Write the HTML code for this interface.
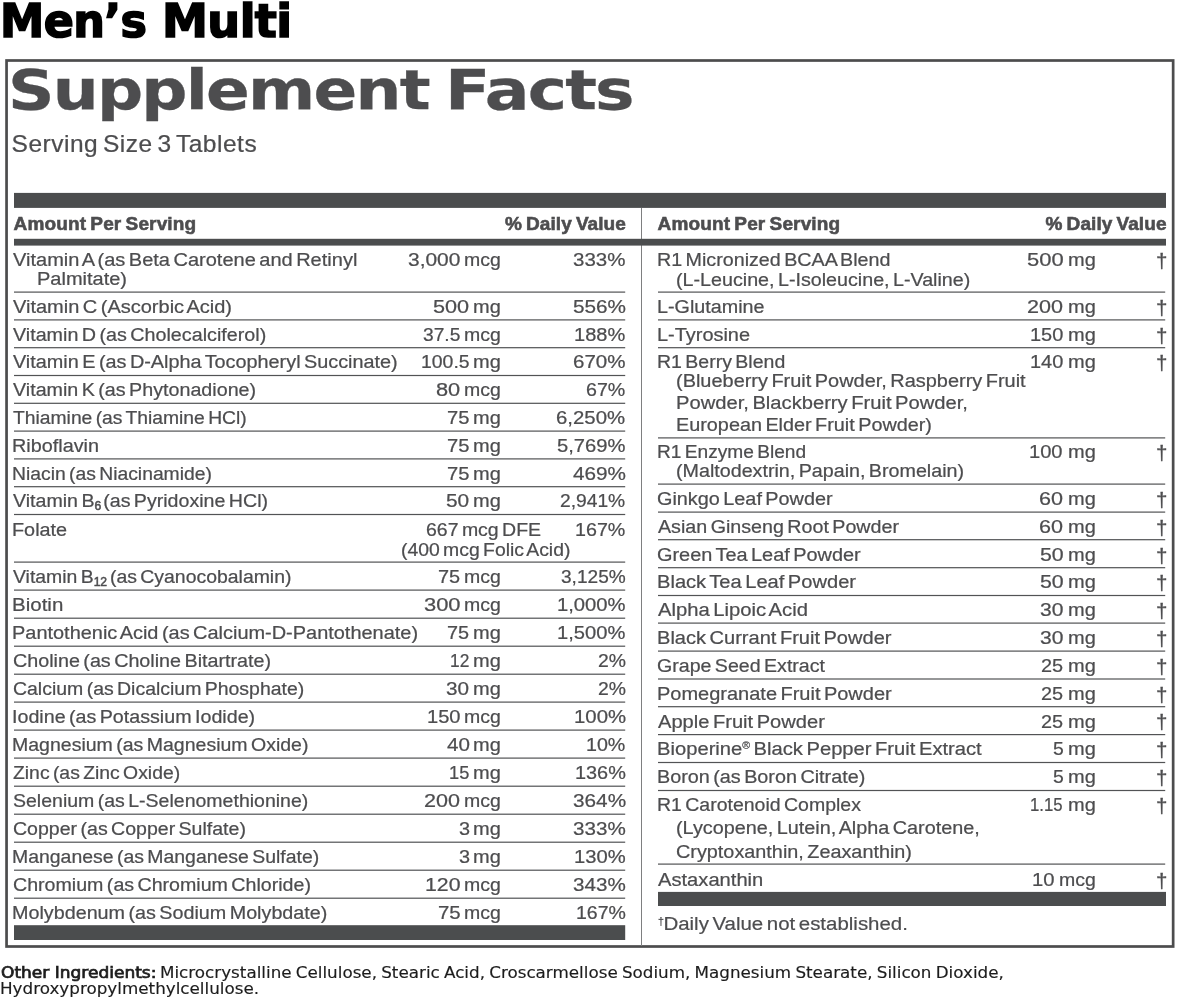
<!DOCTYPE html>
<html lang="en">
<head>
<meta charset="utf-8">
<title>Men’s Multi – Supplement Facts</title>
<style>
html,body{margin:0;padding:0;background:#fff}
body{width:1180px;height:1000px;position:relative;overflow:hidden;font-family:"Liberation Sans", sans-serif;color:#4d4d4f}
#rules{position:absolute;left:0;top:0;width:1180px;height:1000px}
.t{position:absolute;display:block;white-space:nowrap;line-height:1;margin:0;padding:0}
h1,h2,p,section,header,footer,.row{margin:0;padding:0;border:0;font:inherit;display:block}
</style>
</head>
<body>
<svg id="rules" width="1180" height="1000" viewBox="0 0 1180 1000" aria-hidden="true">
<rect x="6.55" y="60.5" width="1166.6" height="886" fill="none" stroke="#4c4c4d" stroke-width="2.7"/>
<rect x="641" y="207.9" width="1" height="738" fill="#7e7f80"/>
<rect x="14.0" y="192.9" width="1152.0" height="15" fill="#4b4d4e"/>
<rect x="14.0" y="238.8" width="1152.0" height="6.8" fill="#4b4d4e"/>
<rect x="14.0" y="925.2" width="611.2" height="14.8" fill="#4b4d4e"/>
<rect x="658.0" y="891.9" width="508.0" height="14.1" fill="#4b4d4e"/>
<rect x="14.0" y="291.50" width="611.2" height="1.2" fill="#525355"/>
<rect x="14.0" y="319.30" width="611.2" height="1.2" fill="#525355"/>
<rect x="14.0" y="347.10" width="611.2" height="1.2" fill="#525355"/>
<rect x="14.0" y="374.90" width="611.2" height="1.2" fill="#525355"/>
<rect x="14.0" y="402.70" width="611.2" height="1.2" fill="#525355"/>
<rect x="14.0" y="430.50" width="611.2" height="1.2" fill="#525355"/>
<rect x="14.0" y="458.30" width="611.2" height="1.2" fill="#525355"/>
<rect x="14.0" y="486.10" width="611.2" height="1.2" fill="#525355"/>
<rect x="14.0" y="513.90" width="611.2" height="1.2" fill="#525355"/>
<rect x="14.0" y="561.50" width="611.2" height="1.2" fill="#525355"/>
<rect x="14.0" y="589.50" width="611.2" height="1.2" fill="#525355"/>
<rect x="14.0" y="617.60" width="611.2" height="1.2" fill="#525355"/>
<rect x="14.0" y="645.60" width="611.2" height="1.2" fill="#525355"/>
<rect x="14.0" y="673.60" width="611.2" height="1.2" fill="#525355"/>
<rect x="14.0" y="701.50" width="611.2" height="1.2" fill="#525355"/>
<rect x="14.0" y="729.50" width="611.2" height="1.2" fill="#525355"/>
<rect x="14.0" y="757.50" width="611.2" height="1.2" fill="#525355"/>
<rect x="14.0" y="785.60" width="611.2" height="1.2" fill="#525355"/>
<rect x="14.0" y="813.60" width="611.2" height="1.2" fill="#525355"/>
<rect x="14.0" y="841.60" width="611.2" height="1.2" fill="#525355"/>
<rect x="14.0" y="869.60" width="611.2" height="1.2" fill="#525355"/>
<rect x="14.0" y="897.60" width="611.2" height="1.2" fill="#525355"/>
<rect x="658.0" y="291.50" width="507.2" height="1.2" fill="#525355"/>
<rect x="658.0" y="319.30" width="507.2" height="1.2" fill="#525355"/>
<rect x="658.0" y="347.10" width="507.2" height="1.2" fill="#525355"/>
<rect x="658.0" y="437.30" width="507.2" height="1.2" fill="#525355"/>
<rect x="658.0" y="483.50" width="507.2" height="1.2" fill="#525355"/>
<rect x="658.0" y="511.50" width="507.2" height="1.2" fill="#525355"/>
<rect x="658.0" y="539.10" width="507.2" height="1.2" fill="#525355"/>
<rect x="658.0" y="567.10" width="507.2" height="1.2" fill="#525355"/>
<rect x="658.0" y="594.90" width="507.2" height="1.2" fill="#525355"/>
<rect x="658.0" y="622.50" width="507.2" height="1.2" fill="#525355"/>
<rect x="658.0" y="650.50" width="507.2" height="1.2" fill="#525355"/>
<rect x="658.0" y="678.40" width="507.2" height="1.2" fill="#525355"/>
<rect x="658.0" y="706.10" width="507.2" height="1.2" fill="#525355"/>
<rect x="658.0" y="734.00" width="507.2" height="1.2" fill="#525355"/>
<rect x="658.0" y="761.90" width="507.2" height="1.2" fill="#525355"/>
<rect x="658.0" y="789.90" width="507.2" height="1.2" fill="#525355"/>
<rect x="658.0" y="863.50" width="507.2" height="1.2" fill="#525355"/>
</svg>
<main>
<h1 class="product">
<span class="t" style="left:0.08px;top:-1.90px;font-size:46px;font-weight:700;color:#000;letter-spacing:-0.600px;-webkit-text-stroke:1.6px #000;font-family:'DejaVu Sans','Liberation Sans',sans-serif;transform:scaleX(0.9664);transform-origin:0 0;">Men’s</span>
<span class="t" style="left:162.06px;top:-1.90px;font-size:46px;font-weight:700;color:#000;letter-spacing:-0.600px;-webkit-text-stroke:1.6px #000;font-family:'DejaVu Sans','Liberation Sans',sans-serif;transform:scaleX(1.0039);transform-origin:0 0;">Multi</span>
</h1>
<h2 class="title">
<span class="t" style="left:7.66px;top:63.05px;font-size:55px;font-weight:700;letter-spacing:-1.500px;-webkit-text-stroke:0.3px #4d4d4f;font-family:'DejaVu Sans','Liberation Sans',sans-serif;transform:scaleX(1.1731);transform-origin:0 0;">Supplement</span>
<span class="t" style="left:445.04px;top:63.05px;font-size:55px;font-weight:700;letter-spacing:-1.500px;-webkit-text-stroke:0.3px #4d4d4f;font-family:'DejaVu Sans','Liberation Sans',sans-serif;transform:scaleX(1.2071);transform-origin:0 0;">Facts</span>
</h2>
<p class="serving">
<span class="t" style="left:11.58px;top:131.68px;font-size:24.5px;letter-spacing:0.505px;word-spacing:-2.5px;-webkit-text-stroke:0.24px #4d4d4f;">Serving Size 3 Tablets</span>
</p>
<div class="row head">
<span class="t" style="left:13.58px;top:214.30px;font-size:19px;font-weight:700;letter-spacing:0.135px;word-spacing:-1.2px;-webkit-text-stroke:0.6px #4d4d4f;">Amount Per Serving</span>
<span class="t" style="left:504.92px;top:214.30px;font-size:19px;font-weight:700;letter-spacing:0.067px;word-spacing:-1.2px;-webkit-text-stroke:0.6px #4d4d4f;">% Daily Value</span>
</div>
<div class="row head">
<span class="t" style="left:657.58px;top:214.30px;font-size:19px;font-weight:700;letter-spacing:0.135px;word-spacing:-1.2px;-webkit-text-stroke:0.6px #4d4d4f;">Amount Per Serving</span>
<span class="t" style="left:1045.47px;top:214.30px;font-size:19px;font-weight:700;letter-spacing:0.075px;word-spacing:-1.2px;-webkit-text-stroke:0.6px #4d4d4f;">% Daily Value</span>
</div>
<div class="row">
<span class="t" style="left:12.84px;top:249.88px;font-size:19.2px;word-spacing:-2.0px;-webkit-text-stroke:0.24px #4d4d4f;transform:scaleX(1.0434);transform-origin:0 0;">Vitamin A (as Beta Carotene and Retinyl</span>
<span class="t" style="left:408.04px;top:249.88px;font-size:19.2px;word-spacing:-2.0px;-webkit-text-stroke:0.24px #4d4d4f;transform:scaleX(1.0901);transform-origin:0 0;">3,000</span>
<span class="t" style="left:464.18px;top:249.88px;font-size:19.2px;word-spacing:-2.0px;-webkit-text-stroke:0.24px #4d4d4f;transform:scaleX(1.0149);transform-origin:0 0;">mcg</span>
<span class="t" style="left:573.22px;top:249.88px;font-size:19.2px;word-spacing:-2.0px;-webkit-text-stroke:0.24px #4d4d4f;transform:scaleX(1.0687);transform-origin:0 0;">333%</span>
<span class="t" style="left:36.85px;top:268.88px;font-size:19.2px;word-spacing:-2.0px;-webkit-text-stroke:0.24px #4d4d4f;transform:scaleX(1.0424);transform-origin:0 0;">Palmitate)</span>
</div>
<div class="row">
<span class="t" style="left:12.84px;top:296.88px;font-size:19.2px;word-spacing:-2.0px;-webkit-text-stroke:0.24px #4d4d4f;transform:scaleX(1.0425);transform-origin:0 0;">Vitamin C (Ascorbic Acid)</span>
<span class="t" style="left:433.25px;top:296.88px;font-size:19.2px;word-spacing:-2.0px;-webkit-text-stroke:0.24px #4d4d4f;transform:scaleX(1.1278);transform-origin:0 0;">500</span>
<span class="t" style="left:473.19px;top:296.88px;font-size:19.2px;word-spacing:-2.0px;-webkit-text-stroke:0.24px #4d4d4f;transform:scaleX(1.0406);transform-origin:0 0;">mg</span>
<span class="t" style="left:572.63px;top:296.88px;font-size:19.2px;word-spacing:-2.0px;-webkit-text-stroke:0.24px #4d4d4f;transform:scaleX(1.0799);transform-origin:0 0;">556%</span>
</div>
<div class="row">
<span class="t" style="left:12.84px;top:324.73px;font-size:19.2px;word-spacing:-2.0px;-webkit-text-stroke:0.24px #4d4d4f;transform:scaleX(1.0277);transform-origin:0 0;">Vitamin D (as Cholecalciferol)</span>
<span class="t" style="left:423.02px;top:324.73px;font-size:19.2px;word-spacing:-2.0px;-webkit-text-stroke:0.24px #4d4d4f;transform:scaleX(1.0004);transform-origin:0 0;">37.5</span>
<span class="t" style="left:464.18px;top:324.73px;font-size:19.2px;word-spacing:-2.0px;-webkit-text-stroke:0.24px #4d4d4f;transform:scaleX(1.0149);transform-origin:0 0;">mcg</span>
<span class="t" style="left:574.32px;top:324.73px;font-size:19.2px;word-spacing:-2.0px;-webkit-text-stroke:0.24px #4d4d4f;transform:scaleX(1.0433);transform-origin:0 0;">188%</span>
</div>
<div class="row">
<span class="t" style="left:12.84px;top:352.48px;font-size:19.2px;word-spacing:-2.0px;-webkit-text-stroke:0.24px #4d4d4f;transform:scaleX(1.0337);transform-origin:0 0;">Vitamin E (as D-Alpha Tocopheryl Succinate)</span>
<span class="t" style="left:420.91px;top:352.48px;font-size:19.2px;word-spacing:-2.0px;-webkit-text-stroke:0.24px #4d4d4f;transform:scaleX(1.0116);transform-origin:0 0;">100.5</span>
<span class="t" style="left:473.19px;top:352.48px;font-size:19.2px;word-spacing:-2.0px;-webkit-text-stroke:0.24px #4d4d4f;transform:scaleX(1.0406);transform-origin:0 0;">mg</span>
<span class="t" style="left:573.20px;top:352.48px;font-size:19.2px;word-spacing:-2.0px;-webkit-text-stroke:0.24px #4d4d4f;transform:scaleX(1.0703);transform-origin:0 0;">670%</span>
</div>
<div class="row">
<span class="t" style="left:12.84px;top:380.28px;font-size:19.2px;word-spacing:-2.0px;-webkit-text-stroke:0.24px #4d4d4f;transform:scaleX(1.0266);transform-origin:0 0;">Vitamin K (as Phytonadione)</span>
<span class="t" style="left:436.08px;top:380.28px;font-size:19.2px;word-spacing:-2.0px;-webkit-text-stroke:0.24px #4d4d4f;transform:scaleX(1.1350);transform-origin:0 0;">80</span>
<span class="t" style="left:464.18px;top:380.28px;font-size:19.2px;word-spacing:-2.0px;-webkit-text-stroke:0.24px #4d4d4f;transform:scaleX(1.0149);transform-origin:0 0;">mcg</span>
<span class="t" style="left:586.38px;top:380.28px;font-size:19.2px;word-spacing:-2.0px;-webkit-text-stroke:0.24px #4d4d4f;transform:scaleX(1.0233);transform-origin:0 0;">67%</span>
</div>
<div class="row">
<span class="t" style="left:13.44px;top:408.08px;font-size:19.2px;word-spacing:-2.0px;-webkit-text-stroke:0.24px #4d4d4f;transform:scaleX(1.0054);transform-origin:0 0;">Thiamine (as Thiamine HCl)</span>
<span class="t" style="left:447.06px;top:408.08px;font-size:19.2px;word-spacing:-2.0px;-webkit-text-stroke:0.24px #4d4d4f;transform:scaleX(1.0516);transform-origin:0 0;">75</span>
<span class="t" style="left:473.19px;top:408.08px;font-size:19.2px;word-spacing:-2.0px;-webkit-text-stroke:0.24px #4d4d4f;transform:scaleX(1.0406);transform-origin:0 0;">mg</span>
<span class="t" style="left:556.48px;top:408.08px;font-size:19.2px;word-spacing:-2.0px;-webkit-text-stroke:0.24px #4d4d4f;transform:scaleX(1.0618);transform-origin:0 0;">6,250%</span>
</div>
<div class="row">
<span class="t" style="left:12.31px;top:435.88px;font-size:19.2px;word-spacing:-2.0px;-webkit-text-stroke:0.24px #4d4d4f;transform:scaleX(1.0331);transform-origin:0 0;">Riboflavin</span>
<span class="t" style="left:447.06px;top:435.88px;font-size:19.2px;word-spacing:-2.0px;-webkit-text-stroke:0.24px #4d4d4f;transform:scaleX(1.0516);transform-origin:0 0;">75</span>
<span class="t" style="left:473.19px;top:435.88px;font-size:19.2px;word-spacing:-2.0px;-webkit-text-stroke:0.24px #4d4d4f;transform:scaleX(1.0406);transform-origin:0 0;">mg</span>
<span class="t" style="left:557.22px;top:435.88px;font-size:19.2px;word-spacing:-2.0px;-webkit-text-stroke:0.24px #4d4d4f;transform:scaleX(1.0525);transform-origin:0 0;">5,769%</span>
</div>
<div class="row">
<span class="t" style="left:12.34px;top:463.68px;font-size:19.2px;word-spacing:-2.0px;-webkit-text-stroke:0.24px #4d4d4f;transform:scaleX(1.0066);transform-origin:0 0;">Niacin (as Niacinamide)</span>
<span class="t" style="left:447.06px;top:463.68px;font-size:19.2px;word-spacing:-2.0px;-webkit-text-stroke:0.24px #4d4d4f;transform:scaleX(1.0516);transform-origin:0 0;">75</span>
<span class="t" style="left:473.19px;top:463.68px;font-size:19.2px;word-spacing:-2.0px;-webkit-text-stroke:0.24px #4d4d4f;transform:scaleX(1.0406);transform-origin:0 0;">mg</span>
<span class="t" style="left:572.64px;top:463.68px;font-size:19.2px;word-spacing:-2.0px;-webkit-text-stroke:0.24px #4d4d4f;transform:scaleX(1.0794);transform-origin:0 0;">469%</span>
</div>
<div class="row">
<span class="t" style="left:12.84px;top:491.48px;font-size:19.2px;word-spacing:-2.0px;-webkit-text-stroke:0.24px #4d4d4f;transform:scaleX(1.0219);transform-origin:0 0;">Vitamin B<span style="font-size:12px;position:relative;top:2.5px;letter-spacing:-0.3px;-webkit-text-stroke:0.5px #4d4d4f">6</span><span style="letter-spacing:-1.2px"> </span>(as Pyridoxine HCl)</span>
<span class="t" style="left:446.18px;top:491.48px;font-size:19.2px;word-spacing:-2.0px;-webkit-text-stroke:0.24px #4d4d4f;transform:scaleX(1.0860);transform-origin:0 0;">50</span>
<span class="t" style="left:473.19px;top:491.48px;font-size:19.2px;word-spacing:-2.0px;-webkit-text-stroke:0.24px #4d4d4f;transform:scaleX(1.0406);transform-origin:0 0;">mg</span>
<span class="t" style="left:560.46px;top:491.48px;font-size:19.2px;word-spacing:-2.0px;-webkit-text-stroke:0.24px #4d4d4f;transform:scaleX(1.0019);transform-origin:0 0;">2,941%</span>
</div>
<div class="row">
<span class="t" style="left:12.31px;top:519.88px;font-size:19.2px;word-spacing:-2.0px;-webkit-text-stroke:0.24px #4d4d4f;transform:scaleX(1.0328);transform-origin:0 0;">Folate</span>
<span class="t" style="left:426.21px;top:520.08px;font-size:19.2px;word-spacing:-2.0px;-webkit-text-stroke:0.24px #4d4d4f;transform:scaleX(1.0152);transform-origin:0 0;">667 mcg DFE</span>
<span class="t" style="left:400.77px;top:540.18px;font-size:19.2px;word-spacing:-2.0px;-webkit-text-stroke:0.24px #4d4d4f;transform:scaleX(1.0093);transform-origin:0 0;">(400 mcg Folic Acid)</span>
<span class="t" style="left:575.36px;top:520.08px;font-size:19.2px;word-spacing:-2.0px;-webkit-text-stroke:0.24px #4d4d4f;transform:scaleX(1.0255);transform-origin:0 0;">167%</span>
</div>
<div class="row">
<span class="t" style="left:12.85px;top:567.08px;font-size:19.2px;word-spacing:-2.0px;-webkit-text-stroke:0.24px #4d4d4f;transform:scaleX(1.0120);transform-origin:0 0;">Vitamin B<span style="font-size:12px;position:relative;top:2.5px;letter-spacing:-0.3px;-webkit-text-stroke:0.5px #4d4d4f">12</span> (as Cyanocobalamin)</span>
<span class="t" style="left:438.18px;top:567.08px;font-size:19.2px;word-spacing:-2.0px;-webkit-text-stroke:0.24px #4d4d4f;transform:scaleX(1.0370);transform-origin:0 0;">75</span>
<span class="t" style="left:464.18px;top:567.08px;font-size:19.2px;word-spacing:-2.0px;-webkit-text-stroke:0.24px #4d4d4f;transform:scaleX(1.0149);transform-origin:0 0;">mcg</span>
<span class="t" style="left:560.90px;top:567.08px;font-size:19.2px;word-spacing:-2.0px;-webkit-text-stroke:0.24px #4d4d4f;transform:scaleX(0.9945);transform-origin:0 0;">3,125%</span>
</div>
<div class="row">
<span class="t" style="left:12.27px;top:595.18px;font-size:19.2px;word-spacing:-2.0px;-webkit-text-stroke:0.24px #4d4d4f;transform:scaleX(1.0684);transform-origin:0 0;">Biotin</span>
<span class="t" style="left:423.90px;top:595.18px;font-size:19.2px;word-spacing:-2.0px;-webkit-text-stroke:0.24px #4d4d4f;transform:scaleX(1.1418);transform-origin:0 0;">300</span>
<span class="t" style="left:464.18px;top:595.18px;font-size:19.2px;word-spacing:-2.0px;-webkit-text-stroke:0.24px #4d4d4f;transform:scaleX(1.0149);transform-origin:0 0;">mcg</span>
<span class="t" style="left:557.21px;top:595.18px;font-size:19.2px;word-spacing:-2.0px;-webkit-text-stroke:0.24px #4d4d4f;transform:scaleX(1.0535);transform-origin:0 0;">1,000%</span>
</div>
<div class="row">
<span class="t" style="left:12.30px;top:623.18px;font-size:19.2px;word-spacing:-2.0px;-webkit-text-stroke:0.24px #4d4d4f;transform:scaleX(1.0391);transform-origin:0 0;">Pantothenic Acid (as Calcium-D-Pantothenate)</span>
<span class="t" style="left:447.39px;top:623.18px;font-size:19.2px;word-spacing:-2.0px;-webkit-text-stroke:0.24px #4d4d4f;transform:scaleX(1.0337);transform-origin:0 0;">75</span>
<span class="t" style="left:473.19px;top:623.18px;font-size:19.2px;word-spacing:-2.0px;-webkit-text-stroke:0.24px #4d4d4f;transform:scaleX(1.0406);transform-origin:0 0;">mg</span>
<span class="t" style="left:557.25px;top:623.18px;font-size:19.2px;word-spacing:-2.0px;-webkit-text-stroke:0.24px #4d4d4f;transform:scaleX(1.0493);transform-origin:0 0;">1,500%</span>
</div>
<div class="row">
<span class="t" style="left:12.80px;top:651.18px;font-size:19.2px;word-spacing:-2.0px;-webkit-text-stroke:0.24px #4d4d4f;transform:scaleX(1.0281);transform-origin:0 0;">Choline (as Choline Bitartrate)</span>
<span class="t" style="left:450.12px;top:651.18px;font-size:19.2px;word-spacing:-2.0px;-webkit-text-stroke:0.24px #4d4d4f;transform:scaleX(0.9051);transform-origin:0 0;">12</span>
<span class="t" style="left:473.19px;top:651.18px;font-size:19.2px;word-spacing:-2.0px;-webkit-text-stroke:0.24px #4d4d4f;transform:scaleX(1.0406);transform-origin:0 0;">mg</span>
<span class="t" style="left:597.57px;top:651.18px;font-size:19.2px;word-spacing:-2.0px;-webkit-text-stroke:0.24px #4d4d4f;transform:scaleX(1.0091);transform-origin:0 0;">2%</span>
</div>
<div class="row">
<span class="t" style="left:12.81px;top:679.08px;font-size:19.2px;word-spacing:-2.0px;-webkit-text-stroke:0.24px #4d4d4f;transform:scaleX(1.0140);transform-origin:0 0;">Calcium (as Dicalcium Phosphate)</span>
<span class="t" style="left:446.35px;top:679.08px;font-size:19.2px;word-spacing:-2.0px;-webkit-text-stroke:0.24px #4d4d4f;transform:scaleX(1.0778);transform-origin:0 0;">30</span>
<span class="t" style="left:473.19px;top:679.08px;font-size:19.2px;word-spacing:-2.0px;-webkit-text-stroke:0.24px #4d4d4f;transform:scaleX(1.0406);transform-origin:0 0;">mg</span>
<span class="t" style="left:597.57px;top:679.08px;font-size:19.2px;word-spacing:-2.0px;-webkit-text-stroke:0.24px #4d4d4f;transform:scaleX(1.0091);transform-origin:0 0;">2%</span>
</div>
<div class="row">
<span class="t" style="left:12.17px;top:707.08px;font-size:19.2px;word-spacing:-2.0px;-webkit-text-stroke:0.24px #4d4d4f;transform:scaleX(1.0251);transform-origin:0 0;">Iodine (as Potassium Iodide)</span>
<span class="t" style="left:426.58px;top:707.08px;font-size:19.2px;word-spacing:-2.0px;-webkit-text-stroke:0.24px #4d4d4f;transform:scaleX(1.0483);transform-origin:0 0;">150</span>
<span class="t" style="left:464.18px;top:707.08px;font-size:19.2px;word-spacing:-2.0px;-webkit-text-stroke:0.24px #4d4d4f;transform:scaleX(1.0149);transform-origin:0 0;">mcg</span>
<span class="t" style="left:573.50px;top:707.08px;font-size:19.2px;word-spacing:-2.0px;-webkit-text-stroke:0.24px #4d4d4f;transform:scaleX(1.0610);transform-origin:0 0;">100%</span>
</div>
<div class="row">
<span class="t" style="left:12.32px;top:735.08px;font-size:19.2px;word-spacing:-2.0px;-webkit-text-stroke:0.24px #4d4d4f;transform:scaleX(1.0170);transform-origin:0 0;">Magnesium (as Magnesium Oxide)</span>
<span class="t" style="left:446.62px;top:735.08px;font-size:19.2px;word-spacing:-2.0px;-webkit-text-stroke:0.24px #4d4d4f;transform:scaleX(1.0733);transform-origin:0 0;">40</span>
<span class="t" style="left:473.19px;top:735.08px;font-size:19.2px;word-spacing:-2.0px;-webkit-text-stroke:0.24px #4d4d4f;transform:scaleX(1.0406);transform-origin:0 0;">mg</span>
<span class="t" style="left:586.37px;top:735.08px;font-size:19.2px;word-spacing:-2.0px;-webkit-text-stroke:0.24px #4d4d4f;transform:scaleX(1.0241);transform-origin:0 0;">10%</span>
</div>
<div class="row">
<span class="t" style="left:13.32px;top:763.18px;font-size:19.2px;word-spacing:-2.0px;-webkit-text-stroke:0.24px #4d4d4f;transform:scaleX(1.0088);transform-origin:0 0;">Zinc (as Zinc Oxide)</span>
<span class="t" style="left:449.07px;top:763.18px;font-size:19.2px;word-spacing:-2.0px;-webkit-text-stroke:0.24px #4d4d4f;transform:scaleX(0.9508);transform-origin:0 0;">15</span>
<span class="t" style="left:473.19px;top:763.18px;font-size:19.2px;word-spacing:-2.0px;-webkit-text-stroke:0.24px #4d4d4f;transform:scaleX(1.0406);transform-origin:0 0;">mg</span>
<span class="t" style="left:574.59px;top:763.18px;font-size:19.2px;word-spacing:-2.0px;-webkit-text-stroke:0.24px #4d4d4f;transform:scaleX(1.0364);transform-origin:0 0;">136%</span>
</div>
<div class="row">
<span class="t" style="left:12.62px;top:791.18px;font-size:19.2px;word-spacing:-2.0px;-webkit-text-stroke:0.24px #4d4d4f;transform:scaleX(1.0170);transform-origin:0 0;">Selenium (as L-Selenomethionine)</span>
<span class="t" style="left:424.30px;top:791.18px;font-size:19.2px;word-spacing:-2.0px;-webkit-text-stroke:0.24px #4d4d4f;transform:scaleX(1.1226);transform-origin:0 0;">200</span>
<span class="t" style="left:464.18px;top:791.18px;font-size:19.2px;word-spacing:-2.0px;-webkit-text-stroke:0.24px #4d4d4f;transform:scaleX(1.0149);transform-origin:0 0;">mcg</span>
<span class="t" style="left:572.59px;top:791.18px;font-size:19.2px;word-spacing:-2.0px;-webkit-text-stroke:0.24px #4d4d4f;transform:scaleX(1.0816);transform-origin:0 0;">364%</span>
</div>
<div class="row">
<span class="t" style="left:12.81px;top:819.18px;font-size:19.2px;word-spacing:-2.0px;-webkit-text-stroke:0.24px #4d4d4f;transform:scaleX(1.0188);transform-origin:0 0;">Copper (as Copper Sulfate)</span>
<span class="t" style="left:458.60px;top:819.18px;font-size:19.2px;word-spacing:-2.0px;-webkit-text-stroke:0.24px #4d4d4f;transform:scaleX(1.0355);transform-origin:0 0;">3</span>
<span class="t" style="left:473.19px;top:819.18px;font-size:19.2px;word-spacing:-2.0px;-webkit-text-stroke:0.24px #4d4d4f;transform:scaleX(1.0406);transform-origin:0 0;">mg</span>
<span class="t" style="left:572.90px;top:819.18px;font-size:19.2px;word-spacing:-2.0px;-webkit-text-stroke:0.24px #4d4d4f;transform:scaleX(1.0744);transform-origin:0 0;">333%</span>
</div>
<div class="row">
<span class="t" style="left:12.33px;top:847.18px;font-size:19.2px;word-spacing:-2.0px;-webkit-text-stroke:0.24px #4d4d4f;transform:scaleX(1.0129);transform-origin:0 0;">Manganese (as Manganese Sulfate)</span>
<span class="t" style="left:458.60px;top:847.18px;font-size:19.2px;word-spacing:-2.0px;-webkit-text-stroke:0.24px #4d4d4f;transform:scaleX(1.0355);transform-origin:0 0;">3</span>
<span class="t" style="left:473.19px;top:847.18px;font-size:19.2px;word-spacing:-2.0px;-webkit-text-stroke:0.24px #4d4d4f;transform:scaleX(1.0406);transform-origin:0 0;">mg</span>
<span class="t" style="left:573.98px;top:847.18px;font-size:19.2px;word-spacing:-2.0px;-webkit-text-stroke:0.24px #4d4d4f;transform:scaleX(1.0519);transform-origin:0 0;">130%</span>
</div>
<div class="row">
<span class="t" style="left:12.80px;top:875.18px;font-size:19.2px;word-spacing:-2.0px;-webkit-text-stroke:0.24px #4d4d4f;transform:scaleX(1.0221);transform-origin:0 0;">Chromium (as Chromium Chloride)</span>
<span class="t" style="left:424.92px;top:875.18px;font-size:19.2px;word-spacing:-2.0px;-webkit-text-stroke:0.24px #4d4d4f;transform:scaleX(1.1076);transform-origin:0 0;">120</span>
<span class="t" style="left:464.18px;top:875.18px;font-size:19.2px;word-spacing:-2.0px;-webkit-text-stroke:0.24px #4d4d4f;transform:scaleX(1.0149);transform-origin:0 0;">mcg</span>
<span class="t" style="left:572.90px;top:875.18px;font-size:19.2px;word-spacing:-2.0px;-webkit-text-stroke:0.24px #4d4d4f;transform:scaleX(1.0744);transform-origin:0 0;">343%</span>
</div>
<div class="row">
<span class="t" style="left:12.31px;top:902.98px;font-size:19.2px;word-spacing:-2.0px;-webkit-text-stroke:0.24px #4d4d4f;transform:scaleX(1.0290);transform-origin:0 0;">Molybdenum (as Sodium Molybdate)</span>
<span class="t" style="left:437.85px;top:902.98px;font-size:19.2px;word-spacing:-2.0px;-webkit-text-stroke:0.24px #4d4d4f;transform:scaleX(1.0645);transform-origin:0 0;">75</span>
<span class="t" style="left:464.18px;top:902.98px;font-size:19.2px;word-spacing:-2.0px;-webkit-text-stroke:0.24px #4d4d4f;transform:scaleX(1.0149);transform-origin:0 0;">mcg</span>
<span class="t" style="left:575.66px;top:902.98px;font-size:19.2px;word-spacing:-2.0px;-webkit-text-stroke:0.24px #4d4d4f;transform:scaleX(1.0178);transform-origin:0 0;">167%</span>
</div>
<div class="row">
<span class="t" style="left:656.97px;top:249.88px;font-size:19.2px;word-spacing:-2.0px;-webkit-text-stroke:0.24px #4d4d4f;transform:scaleX(1.0259);transform-origin:0 0;">R1 Micronized BCAA Blend</span>
<span class="t" style="left:1026.70px;top:249.88px;font-size:19.2px;word-spacing:-2.0px;-webkit-text-stroke:0.24px #4d4d4f;transform:scaleX(1.1429);transform-origin:0 0;">500</span>
<span class="t" style="left:1068.14px;top:249.88px;font-size:19.2px;word-spacing:-2.0px;-webkit-text-stroke:0.24px #4d4d4f;transform:scaleX(1.0406);transform-origin:0 0;">mg</span>
<span class="t" style="left:1156.10px;top:250.75px;font-size:20px;-webkit-text-stroke:0.3px #4d4d4f;transform:scaleX(1.0243);transform-origin:0 0;">†</span>
<span class="t" style="left:675.83px;top:269.88px;font-size:19.2px;word-spacing:-2.0px;-webkit-text-stroke:0.24px #4d4d4f;transform:scaleX(1.0262);transform-origin:0 0;">(L-Leucine, L-Isoleucine, L-Valine)</span>
</div>
<div class="row">
<span class="t" style="left:656.96px;top:296.88px;font-size:19.2px;word-spacing:-2.0px;-webkit-text-stroke:0.24px #4d4d4f;transform:scaleX(1.0286);transform-origin:0 0;">L-Glutamine</span>
<span class="t" style="left:1027.15px;top:296.88px;font-size:19.2px;word-spacing:-2.0px;-webkit-text-stroke:0.24px #4d4d4f;transform:scaleX(1.1226);transform-origin:0 0;">200</span>
<span class="t" style="left:1068.14px;top:296.88px;font-size:19.2px;word-spacing:-2.0px;-webkit-text-stroke:0.24px #4d4d4f;transform:scaleX(1.0406);transform-origin:0 0;">mg</span>
<span class="t" style="left:1156.10px;top:297.75px;font-size:20px;-webkit-text-stroke:0.3px #4d4d4f;transform:scaleX(1.0243);transform-origin:0 0;">†</span>
</div>
<div class="row">
<span class="t" style="left:656.95px;top:324.73px;font-size:19.2px;word-spacing:-2.0px;-webkit-text-stroke:0.24px #4d4d4f;transform:scaleX(1.0386);transform-origin:0 0;">L-Tyrosine</span>
<span class="t" style="left:1029.83px;top:324.73px;font-size:19.2px;word-spacing:-2.0px;-webkit-text-stroke:0.24px #4d4d4f;transform:scaleX(1.0402);transform-origin:0 0;">150</span>
<span class="t" style="left:1068.14px;top:324.73px;font-size:19.2px;word-spacing:-2.0px;-webkit-text-stroke:0.24px #4d4d4f;transform:scaleX(1.0406);transform-origin:0 0;">mg</span>
<span class="t" style="left:1156.10px;top:325.60px;font-size:20px;-webkit-text-stroke:0.3px #4d4d4f;transform:scaleX(1.0243);transform-origin:0 0;">†</span>
</div>
<div class="row">
<span class="t" style="left:656.97px;top:352.08px;font-size:19.2px;word-spacing:-2.0px;-webkit-text-stroke:0.24px #4d4d4f;transform:scaleX(1.0169);transform-origin:0 0;">R1 Berry Blend</span>
<span class="t" style="left:1029.83px;top:352.08px;font-size:19.2px;word-spacing:-2.0px;-webkit-text-stroke:0.24px #4d4d4f;transform:scaleX(1.0402);transform-origin:0 0;">140</span>
<span class="t" style="left:1068.14px;top:352.08px;font-size:19.2px;word-spacing:-2.0px;-webkit-text-stroke:0.24px #4d4d4f;transform:scaleX(1.0406);transform-origin:0 0;">mg</span>
<span class="t" style="left:1156.10px;top:352.95px;font-size:20px;-webkit-text-stroke:0.3px #4d4d4f;transform:scaleX(1.0243);transform-origin:0 0;">†</span>
<span class="t" style="left:675.82px;top:370.78px;font-size:19.2px;word-spacing:-2.0px;-webkit-text-stroke:0.24px #4d4d4f;transform:scaleX(1.0392);transform-origin:0 0;">(Blueberry Fruit Powder, Raspberry Fruit</span>
<span class="t" style="left:675.54px;top:392.58px;font-size:19.2px;word-spacing:-2.0px;-webkit-text-stroke:0.24px #4d4d4f;transform:scaleX(1.0513);transform-origin:0 0;">Powder, Blackberry Fruit Powder,</span>
<span class="t" style="left:675.56px;top:414.88px;font-size:19.2px;word-spacing:-2.0px;-webkit-text-stroke:0.24px #4d4d4f;transform:scaleX(1.0328);transform-origin:0 0;">European Elder Fruit Powder)</span>
</div>
<div class="row">
<span class="t" style="left:656.99px;top:441.98px;font-size:19.2px;word-spacing:-2.0px;-webkit-text-stroke:0.24px #4d4d4f;transform:scaleX(0.9966);transform-origin:0 0;">R1 Enzyme Blend</span>
<span class="t" style="left:1029.43px;top:441.98px;font-size:19.2px;word-spacing:-2.0px;-webkit-text-stroke:0.24px #4d4d4f;transform:scaleX(1.0483);transform-origin:0 0;">100</span>
<span class="t" style="left:1068.14px;top:441.98px;font-size:19.2px;word-spacing:-2.0px;-webkit-text-stroke:0.24px #4d4d4f;transform:scaleX(1.0406);transform-origin:0 0;">mg</span>
<span class="t" style="left:1156.10px;top:442.85px;font-size:20px;-webkit-text-stroke:0.3px #4d4d4f;transform:scaleX(1.0243);transform-origin:0 0;">†</span>
<span class="t" style="left:675.83px;top:460.88px;font-size:19.2px;word-spacing:-2.0px;-webkit-text-stroke:0.24px #4d4d4f;transform:scaleX(1.0260);transform-origin:0 0;">(Maltodextrin, Papain, Bromelain)</span>
</div>
<div class="row">
<span class="t" style="left:657.43px;top:489.08px;font-size:19.2px;word-spacing:-2.0px;-webkit-text-stroke:0.24px #4d4d4f;transform:scaleX(1.0339);transform-origin:0 0;">Ginkgo Leaf Powder</span>
<span class="t" style="left:1039.12px;top:489.08px;font-size:19.2px;word-spacing:-2.0px;-webkit-text-stroke:0.24px #4d4d4f;transform:scaleX(1.1244);transform-origin:0 0;">60</span>
<span class="t" style="left:1068.14px;top:489.08px;font-size:19.2px;word-spacing:-2.0px;-webkit-text-stroke:0.24px #4d4d4f;transform:scaleX(1.0406);transform-origin:0 0;">mg</span>
<span class="t" style="left:1156.10px;top:489.95px;font-size:20px;-webkit-text-stroke:0.3px #4d4d4f;transform:scaleX(1.0243);transform-origin:0 0;">†</span>
</div>
<div class="row">
<span class="t" style="left:657.53px;top:516.68px;font-size:19.2px;word-spacing:-2.0px;-webkit-text-stroke:0.24px #4d4d4f;transform:scaleX(1.0253);transform-origin:0 0;">Asian Ginseng Root Powder</span>
<span class="t" style="left:1039.12px;top:516.68px;font-size:19.2px;word-spacing:-2.0px;-webkit-text-stroke:0.24px #4d4d4f;transform:scaleX(1.1244);transform-origin:0 0;">60</span>
<span class="t" style="left:1068.14px;top:516.68px;font-size:19.2px;word-spacing:-2.0px;-webkit-text-stroke:0.24px #4d4d4f;transform:scaleX(1.0406);transform-origin:0 0;">mg</span>
<span class="t" style="left:1156.10px;top:517.55px;font-size:20px;-webkit-text-stroke:0.3px #4d4d4f;transform:scaleX(1.0243);transform-origin:0 0;">†</span>
</div>
<div class="row">
<span class="t" style="left:657.42px;top:544.68px;font-size:19.2px;word-spacing:-2.0px;-webkit-text-stroke:0.24px #4d4d4f;transform:scaleX(1.0378);transform-origin:0 0;">Green Tea Leaf Powder</span>
<span class="t" style="left:1039.52px;top:544.68px;font-size:19.2px;word-spacing:-2.0px;-webkit-text-stroke:0.24px #4d4d4f;transform:scaleX(1.1117);transform-origin:0 0;">50</span>
<span class="t" style="left:1068.14px;top:544.68px;font-size:19.2px;word-spacing:-2.0px;-webkit-text-stroke:0.24px #4d4d4f;transform:scaleX(1.0406);transform-origin:0 0;">mg</span>
<span class="t" style="left:1156.10px;top:545.55px;font-size:20px;-webkit-text-stroke:0.3px #4d4d4f;transform:scaleX(1.0243);transform-origin:0 0;">†</span>
</div>
<div class="row">
<span class="t" style="left:656.94px;top:572.48px;font-size:19.2px;word-spacing:-2.0px;-webkit-text-stroke:0.24px #4d4d4f;transform:scaleX(1.0480);transform-origin:0 0;">Black Tea Leaf Powder</span>
<span class="t" style="left:1039.52px;top:572.48px;font-size:19.2px;word-spacing:-2.0px;-webkit-text-stroke:0.24px #4d4d4f;transform:scaleX(1.1117);transform-origin:0 0;">50</span>
<span class="t" style="left:1068.14px;top:572.48px;font-size:19.2px;word-spacing:-2.0px;-webkit-text-stroke:0.24px #4d4d4f;transform:scaleX(1.0406);transform-origin:0 0;">mg</span>
<span class="t" style="left:1156.10px;top:573.35px;font-size:20px;-webkit-text-stroke:0.3px #4d4d4f;transform:scaleX(1.0243);transform-origin:0 0;">†</span>
</div>
<div class="row">
<span class="t" style="left:657.53px;top:600.08px;font-size:19.2px;word-spacing:-2.0px;-webkit-text-stroke:0.24px #4d4d4f;transform:scaleX(1.0545);transform-origin:0 0;">Alpha Lipoic Acid</span>
<span class="t" style="left:1039.78px;top:600.08px;font-size:19.2px;word-spacing:-2.0px;-webkit-text-stroke:0.24px #4d4d4f;transform:scaleX(1.0962);transform-origin:0 0;">30</span>
<span class="t" style="left:1068.14px;top:600.08px;font-size:19.2px;word-spacing:-2.0px;-webkit-text-stroke:0.24px #4d4d4f;transform:scaleX(1.0406);transform-origin:0 0;">mg</span>
<span class="t" style="left:1156.10px;top:600.95px;font-size:20px;-webkit-text-stroke:0.3px #4d4d4f;transform:scaleX(1.0243);transform-origin:0 0;">†</span>
</div>
<div class="row">
<span class="t" style="left:656.94px;top:628.08px;font-size:19.2px;word-spacing:-2.0px;-webkit-text-stroke:0.24px #4d4d4f;transform:scaleX(1.0452);transform-origin:0 0;">Black Currant Fruit Powder</span>
<span class="t" style="left:1039.78px;top:628.08px;font-size:19.2px;word-spacing:-2.0px;-webkit-text-stroke:0.24px #4d4d4f;transform:scaleX(1.0962);transform-origin:0 0;">30</span>
<span class="t" style="left:1068.14px;top:628.08px;font-size:19.2px;word-spacing:-2.0px;-webkit-text-stroke:0.24px #4d4d4f;transform:scaleX(1.0406);transform-origin:0 0;">mg</span>
<span class="t" style="left:1156.10px;top:628.95px;font-size:20px;-webkit-text-stroke:0.3px #4d4d4f;transform:scaleX(1.0243);transform-origin:0 0;">†</span>
</div>
<div class="row">
<span class="t" style="left:657.45px;top:655.98px;font-size:19.2px;word-spacing:-2.0px;-webkit-text-stroke:0.24px #4d4d4f;transform:scaleX(1.0211);transform-origin:0 0;">Grape Seed Extract</span>
<span class="t" style="left:1041.26px;top:655.98px;font-size:19.2px;word-spacing:-2.0px;-webkit-text-stroke:0.24px #4d4d4f;transform:scaleX(1.0358);transform-origin:0 0;">25</span>
<span class="t" style="left:1068.14px;top:655.98px;font-size:19.2px;word-spacing:-2.0px;-webkit-text-stroke:0.24px #4d4d4f;transform:scaleX(1.0406);transform-origin:0 0;">mg</span>
<span class="t" style="left:1156.10px;top:656.85px;font-size:20px;-webkit-text-stroke:0.3px #4d4d4f;transform:scaleX(1.0243);transform-origin:0 0;">†</span>
</div>
<div class="row">
<span class="t" style="left:656.95px;top:683.68px;font-size:19.2px;word-spacing:-2.0px;-webkit-text-stroke:0.24px #4d4d4f;transform:scaleX(1.0417);transform-origin:0 0;">Pomegranate Fruit Powder</span>
<span class="t" style="left:1041.26px;top:683.68px;font-size:19.2px;word-spacing:-2.0px;-webkit-text-stroke:0.24px #4d4d4f;transform:scaleX(1.0358);transform-origin:0 0;">25</span>
<span class="t" style="left:1068.14px;top:683.68px;font-size:19.2px;word-spacing:-2.0px;-webkit-text-stroke:0.24px #4d4d4f;transform:scaleX(1.0406);transform-origin:0 0;">mg</span>
<span class="t" style="left:1156.10px;top:684.55px;font-size:20px;-webkit-text-stroke:0.3px #4d4d4f;transform:scaleX(1.0243);transform-origin:0 0;">†</span>
</div>
<div class="row">
<span class="t" style="left:657.53px;top:711.58px;font-size:19.2px;word-spacing:-2.0px;-webkit-text-stroke:0.24px #4d4d4f;transform:scaleX(1.0481);transform-origin:0 0;">Apple Fruit Powder</span>
<span class="t" style="left:1041.26px;top:711.58px;font-size:19.2px;word-spacing:-2.0px;-webkit-text-stroke:0.24px #4d4d4f;transform:scaleX(1.0358);transform-origin:0 0;">25</span>
<span class="t" style="left:1068.14px;top:711.58px;font-size:19.2px;word-spacing:-2.0px;-webkit-text-stroke:0.24px #4d4d4f;transform:scaleX(1.0406);transform-origin:0 0;">mg</span>
<span class="t" style="left:1156.10px;top:712.45px;font-size:20px;-webkit-text-stroke:0.3px #4d4d4f;transform:scaleX(1.0243);transform-origin:0 0;">†</span>
</div>
<div class="row">
<span class="t" style="left:656.94px;top:739.48px;font-size:19.2px;word-spacing:-2.0px;-webkit-text-stroke:0.24px #4d4d4f;transform:scaleX(1.0521);transform-origin:0 0;">Bioperine<span style="font-size:10px;position:relative;top:-6px;letter-spacing:0">®</span> Black Pepper Fruit Extract</span>
<span class="t" style="left:1052.57px;top:739.48px;font-size:19.2px;word-spacing:-2.0px;-webkit-text-stroke:0.24px #4d4d4f;transform:scaleX(1.0091);transform-origin:0 0;">5</span>
<span class="t" style="left:1068.14px;top:739.48px;font-size:19.2px;word-spacing:-2.0px;-webkit-text-stroke:0.24px #4d4d4f;transform:scaleX(1.0406);transform-origin:0 0;">mg</span>
<span class="t" style="left:1156.10px;top:740.35px;font-size:20px;-webkit-text-stroke:0.3px #4d4d4f;transform:scaleX(1.0243);transform-origin:0 0;">†</span>
</div>
<div class="row">
<span class="t" style="left:656.96px;top:767.48px;font-size:19.2px;word-spacing:-2.0px;-webkit-text-stroke:0.24px #4d4d4f;transform:scaleX(1.0313);transform-origin:0 0;">Boron (as Boron Citrate)</span>
<span class="t" style="left:1052.57px;top:767.48px;font-size:19.2px;word-spacing:-2.0px;-webkit-text-stroke:0.24px #4d4d4f;transform:scaleX(1.0091);transform-origin:0 0;">5</span>
<span class="t" style="left:1068.14px;top:767.48px;font-size:19.2px;word-spacing:-2.0px;-webkit-text-stroke:0.24px #4d4d4f;transform:scaleX(1.0406);transform-origin:0 0;">mg</span>
<span class="t" style="left:1156.10px;top:768.35px;font-size:20px;-webkit-text-stroke:0.3px #4d4d4f;transform:scaleX(1.0243);transform-origin:0 0;">†</span>
</div>
<div class="row">
<span class="t" style="left:656.97px;top:794.88px;font-size:19.2px;word-spacing:-2.0px;-webkit-text-stroke:0.24px #4d4d4f;transform:scaleX(1.0155);transform-origin:0 0;">R1 Carotenoid Complex</span>
<span class="t" style="left:1030.40px;top:794.88px;font-size:19.2px;word-spacing:-2.0px;-webkit-text-stroke:0.24px #4d4d4f;transform:scaleX(0.8735);transform-origin:0 0;">1.15</span>
<span class="t" style="left:1068.14px;top:794.88px;font-size:19.2px;word-spacing:-2.0px;-webkit-text-stroke:0.24px #4d4d4f;transform:scaleX(1.0406);transform-origin:0 0;">mg</span>
<span class="t" style="left:1156.10px;top:795.75px;font-size:20px;-webkit-text-stroke:0.3px #4d4d4f;transform:scaleX(1.0243);transform-origin:0 0;">†</span>
<span class="t" style="left:675.83px;top:818.38px;font-size:19.2px;word-spacing:-2.0px;-webkit-text-stroke:0.24px #4d4d4f;transform:scaleX(1.0330);transform-origin:0 0;">(Lycopene, Lutein, Alpha Carotene,</span>
<span class="t" style="left:676.03px;top:841.68px;font-size:19.2px;word-spacing:-2.0px;-webkit-text-stroke:0.24px #4d4d4f;transform:scaleX(1.0333);transform-origin:0 0;">Cryptoxanthin, Zeaxanthin)</span>
</div>
<div class="row">
<span class="t" style="left:657.53px;top:869.88px;font-size:19.2px;word-spacing:-2.0px;-webkit-text-stroke:0.24px #4d4d4f;transform:scaleX(1.0499);transform-origin:0 0;">Astaxanthin</span>
<span class="t" style="left:1031.62px;top:869.88px;font-size:19.2px;word-spacing:-2.0px;-webkit-text-stroke:0.24px #4d4d4f;transform:scaleX(1.0541);transform-origin:0 0;">10</span>
<span class="t" style="left:1059.13px;top:869.88px;font-size:19.2px;word-spacing:-2.0px;-webkit-text-stroke:0.24px #4d4d4f;transform:scaleX(1.0149);transform-origin:0 0;">mcg</span>
<span class="t" style="left:1156.10px;top:870.75px;font-size:20px;-webkit-text-stroke:0.3px #4d4d4f;transform:scaleX(1.0243);transform-origin:0 0;">†</span>
</div>
<p class="footnote">
<span class="t" style="left:657.87px;top:914.00px;font-size:19.2px;word-spacing:-2.0px;-webkit-text-stroke:0.2px #4d4d4f;transform:scaleX(1.0661);transform-origin:0 0;"><span style="font-size:10px;position:relative;top:-5.5px;margin-right:-0.5px">†</span>Daily Value not established.</span>
</p>
<p class="other">
<span class="t" style="left:0.57px;top:965.55px;font-size:15.2px;color:#1c1c1c;-webkit-text-stroke:0.7px #1c1c1c;font-family:'DejaVu Sans','Liberation Sans',sans-serif;transform:scaleX(1.1201);transform-origin:0 0;">Other Ingredients:</span>
<span class="t" style="left:160.15px;top:965.82px;font-size:15.2px;color:#1c1c1c;word-spacing:-1px;-webkit-text-stroke:0.15px #1c1c1c;font-family:'DejaVu Sans','Liberation Sans',sans-serif;transform:scaleX(1.1032);transform-origin:0 0;">Microcrystalline Cellulose, Stearic Acid, Croscarmellose Sodium, Magnesium Stearate, Silicon Dioxide,</span>
<span class="t" style="left:-0.15px;top:982.22px;font-size:15.2px;color:#1c1c1c;-webkit-text-stroke:0.15px #1c1c1c;font-family:'DejaVu Sans','Liberation Sans',sans-serif;transform:scaleX(1.1038);transform-origin:0 0;">Hydroxypropylmethylcellulose.</span>
</p>
</main>
</body>
</html>
